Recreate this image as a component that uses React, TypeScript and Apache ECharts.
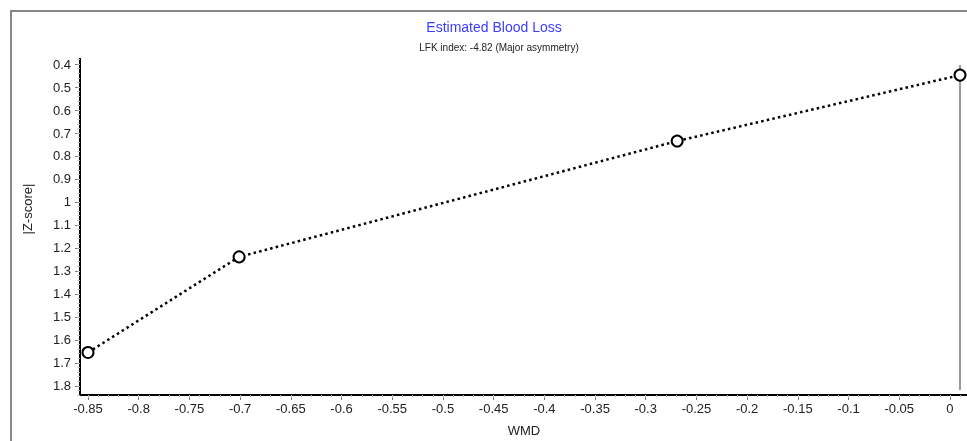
import React, { useEffect, useRef } from "react";
import * as echarts from "echarts";

const wmd = [-0.85, -0.701, -0.269, 0.0099];
const zScore = [1.655, 1.239, 0.735, 0.448];
const yTickLabels = [0.4, 0.5, 0.6, 0.7, 0.8, 0.9, 1, 1.1, 1.2, 1.3, 1.4, 1.5, 1.6, 1.7, 1.8];
const xTickLabels = [-0.85, -0.8, -0.75, -0.7, -0.65, -0.6, -0.55, -0.5, -0.45, -0.4, -0.35, -0.3, -0.25, -0.2, -0.15, -0.1, -0.05, 0];
const refLineX = 0.0099;
const refLineRange = [0.404, 1.818];

const FONT = "Arial, 'Liberation Sans', sans-serif";

export default function App() {
  const ref = useRef<HTMLDivElement>(null);
  useEffect(() => {
    if (!ref.current) return;
    const chart = echarts.init(ref.current, null, { renderer: "svg" });
    const xMinor: number[] = [];
    for (let i = -86; i <= 1; i++) xMinor.push(Math.round(i) / 100);
    const yMinor: number[] = [];
    for (let i = 19; i <= 92; i++) yMinor.push(Math.round(i * 2) / 100);
    const axisX = (extra: any) => ({
      type: "value",
      min: -0.8579,
      max: 0.0168,
      splitLine: { show: false },
      axisLine: { show: true, onZero: false, lineStyle: { color: "#000", width: 2 } },
      ...extra,
    });
    const axisY = (extra: any) => ({
      type: "value",
      inverse: true,
      min: 0.378,
      max: 1.84,
      splitLine: { show: false },
      axisLine: { show: true, onZero: false, lineStyle: { color: "#000", width: 2 } },
      ...extra,
    });
    chart.setOption({
      animation: false,
      grid: { left: 80, right: 0, top: 59, bottom: 46, containLabel: false },
      xAxis: [
        axisX({
          axisTick: { show: true, length: 5, customValues: xTickLabels, lineStyle: { color: "#777", width: 1 } },
          axisLabel: {
            customValues: xTickLabels,
            color: "#222",
            fontSize: 13,
            fontFamily: FONT,
            margin: 7,
            formatter: (v: number) => String(v),
          },
        }),
        axisX({
          position: "bottom",
          axisTick: { show: true, length: 2.5, customValues: xMinor, lineStyle: { color: "#bbb", width: 1 } },
          axisLabel: { show: false },
        }),
      ],
      yAxis: [
        axisY({
          axisTick: { show: true, length: 5, customValues: yTickLabels, lineStyle: { color: "#777", width: 1 } },
          axisLabel: {
            customValues: yTickLabels,
            color: "#222",
            fontSize: 13,
            fontFamily: FONT,
            margin: 9,
            formatter: (v: number) => String(v),
          },
        }),
        axisY({
          position: "left",
          axisTick: { show: true, length: 2.5, customValues: yMinor, lineStyle: { color: "#bbb", width: 1 } },
          axisLabel: { show: false },
        }),
      ],
      graphic: [
        {
          type: "rect",
          shape: { x: 11, y: 11, width: 1000, height: 500 },
          style: { fill: "none", stroke: "#888", lineWidth: 2 },
          silent: true,
        },
        {
          type: "text",
          x: 494,
          y: 27,
          style: {
            text: "Estimated Blood Loss",
            fill: "#3c3cff",
            font: `14px ${FONT}`,
            textAlign: "center",
            textVerticalAlign: "middle",
          },
        },
        {
          type: "text",
          x: 499,
          y: 47,
          style: {
            text: "LFK index: -4.82 (Major asymmetry)",
            fill: "#222",
            font: `10px ${FONT}`,
            textAlign: "center",
            textVerticalAlign: "middle",
          },
        },
        {
          type: "text",
          x: 27,
          y: 209,
          rotation: Math.PI / 2,
          style: {
            text: "|Z-score|",
            fill: "#222",
            font: `13px ${FONT}`,
            textAlign: "center",
            textVerticalAlign: "middle",
          },
        },
        {
          type: "text",
          x: 524,
          y: 430,
          style: {
            text: "WMD",
            fill: "#222",
            font: `13px ${FONT}`,
            textAlign: "center",
            textVerticalAlign: "middle",
          },
        },
      ],
      series: [
        {
          type: "line",
          data: wmd.map((x, i) => [x, zScore[i]]),
          symbol: "emptyCircle",
          symbolSize: 11,
          itemStyle: { color: "#000", borderColor: "#000", borderWidth: 2 },
          lineStyle: { color: "#000", width: 2.5, type: [2.5, 3.2] },
          z: 5,
          markLine: {
            silent: true,
            symbol: ["none", "none"],
            label: { show: false },
            lineStyle: { color: "#999", width: 2, type: "solid" },
            data: [[{ coord: [refLineX, refLineRange[0]] }, { coord: [refLineX, refLineRange[1]] }]],
          },
        },
      ],
    });
    return () => chart.dispose();
  }, []);
  return <div ref={ref} style={{ position: "fixed", left: 0, top: 0, width: 967, height: 441 }} />;
}
